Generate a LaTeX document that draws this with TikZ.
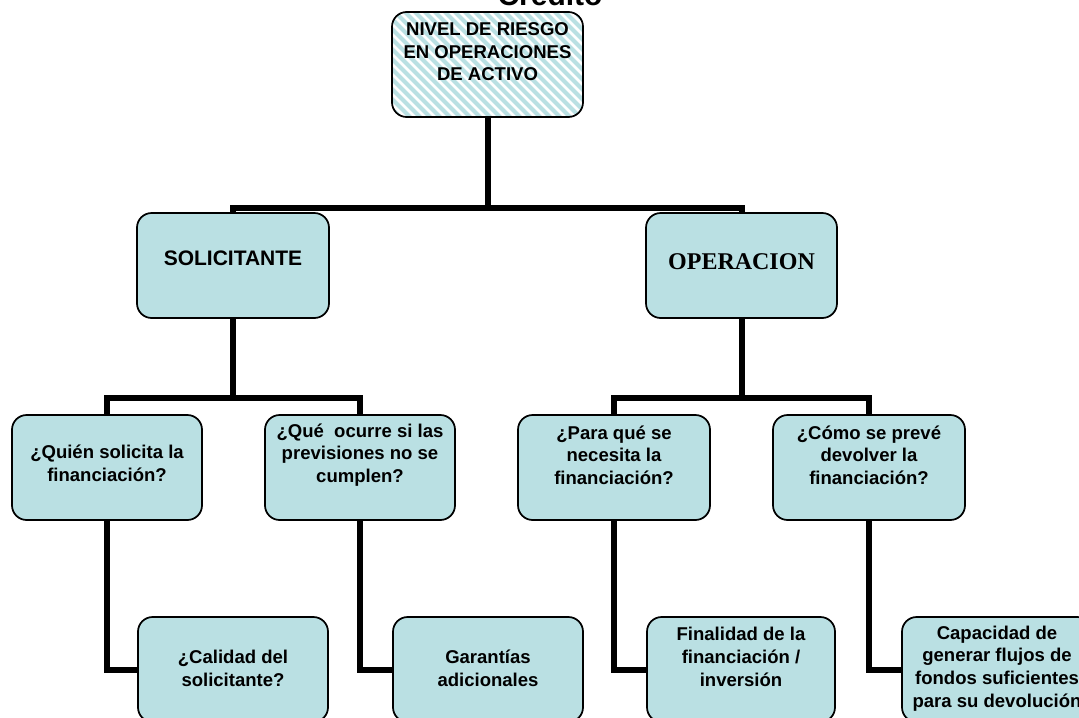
\documentclass[tikz,border=0pt]{standalone}
\usepackage{fontspec}
\setmainfont{Liberation Sans}
\newfontfamily\romanbold{Liberation Serif}
\usetikzlibrary{backgrounds}
\definecolor{boxfill}{RGB}{186,224,227}

\begin{document}
\begin{tikzpicture}[x=0.75pt,y=-0.75pt,
  box/.style={draw=black, line width=1.3pt, fill=boxfill, rounded corners=11pt,
    minimum width=142.5pt, minimum height=78.75pt, inner sep=0pt},
  conn/.style={draw=black, line width=4.5pt, line join=miter, line cap=butt},
  qtext/.style={font=\bfseries\fontsize{13.9}{17}\selectfont, align=center, inner sep=0pt},
  stripe/.style={draw=boxfill, line width=3pt}]

\useasboundingbox (0,0) rectangle (1079,718);
\clip (0,0) rectangle (1079,718);

% heading, cut by the top edge
\node[font=\bfseries\fontsize{22.5}{27}\selectfont, anchor=base] (titulo) at (550,5) {Credito};

% top box with diagonal stripes (path picture coordinates are relative to the node centre)
\node[box, fill=white, minimum width=143.25pt,
  path picture={\foreach \k in {0,...,34} {\draw[stripe] (-220+\k*10,-60) -- ++(125,125);}},
  label={[qtext, yshift=9.5pt]center:NIVEL DE RIESGO\\EN OPERACIONES\\DE ACTIVO}]
  (raiz) at (487.5,64.5) {};

% first level
\node[box, minimum width=144pt,
  label={[font=\bfseries\fontsize{15.75}{19}\selectfont, inner sep=0pt, yshift=5.6pt]center:SOLICITANTE}]
  (sol) at (233,265.5) {};
\node[box, minimum width=143.25pt,
  label={[font=\romanbold\bfseries\fontsize{18}{21}\selectfont, inner sep=0pt, yshift=2.6pt]center:OPERACION}]
  (ope) at (741.5,265.5) {};

% second level
\node[box, label={[qtext, yshift=3.4pt]center:¿Quién solicita la\\financiación?}]
  (quien) at (107,467.5) {};
\node[box, label={[qtext, yshift=9.4pt]center:¿Qué~ ocurre si las\\previsiones no se\\cumplen?}]
  (que) at (360,467.5) {};
\node[box, minimum width=144pt, label={[qtext, yshift=9.4pt]center:¿Para qué se\\necesita la\\financiación?}]
  (para) at (614,467.5) {};
\node[box, minimum width=144pt, label={[qtext, yshift=9.4pt]center:¿Cómo se prevé\\devolver la\\financiación?}]
  (como) at (869,467.5) {};

% third level
\node[box, label={[qtext, yshift=1.1pt]center:¿Calidad del\\solicitante?}]
  (calidad) at (233,669.5) {};
\node[box, label={[qtext, yshift=1.1pt]center:Garantías\\adicionales}]
  (garant) at (488,669.5) {};
\node[box, minimum width=141pt, label={[qtext, yshift=9.4pt]center:Finalidad de la\\financiación /\\inversión}]
  (final) at (741,669.5) {};
\node[box, label={[qtext, yshift=0.8pt]center:Capacidad de\\generar flujos de\\fondos suficientes\\para su devolución}]
  (capac) at (997,669.5) {};

% junction points of the tree
\coordinate (j0) at (487.5,208);
\coordinate (j1) at (233,397.5);
\coordinate (j2) at (741.5,397.5);

% connectors, kept behind the boxes
\begin{scope}[on background layer]
  \draw[conn] (raiz.south) -- (j0);
  \draw[conn] (sol.north) |- (j0) -| (ope.north);
  \draw[conn] (sol.south) -- (j1);
  \draw[conn] (quien.north) |- (j1) -| (que.north);
  \draw[conn] (ope.south) -- (j2);
  \draw[conn] (para.north) |- (j2) -| (como.north);
  \draw[conn] (quien.south) |- (calidad.west);
  \draw[conn] (que.south) |- (garant.west);
  \draw[conn] (para.south) |- (final.west);
  \draw[conn] (como.south) |- (capac.west);
\end{scope}
\end{tikzpicture}
\end{document}
